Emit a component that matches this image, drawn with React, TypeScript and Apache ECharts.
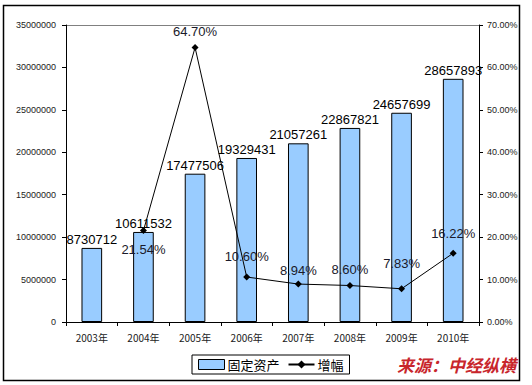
import React, { useEffect, useRef } from "react";
import * as echarts from "echarts";

const categories = ["2003年", "2004年", "2005年", "2006年", "2007年", "2008年", "2009年", "2010年"];
const assets = [8730712, 10611532, 17477506, 19329431, 21057261, 22867821, 24657699, 28657893];
const growth: (number | null)[] = [null, 0.2154, 0.647, 0.106, 0.0894, 0.086, 0.0783, 0.1622];
const growthLabelPos = ["top", "bottom", "top", "top", "top", "top", "top", "top"];
const growthLabelDist = [5, 9, 6, 11, 4, 6, 15, 10];

export default function App() {
  const ref = useRef<HTMLDivElement>(null);
  useEffect(() => {
    document.body.style.margin = "0";
    const chart = echarts.init(ref.current!, null, { renderer: "svg" });
    const font = "Arial, 'Liberation Sans', 'Noto Sans CJK SC', sans-serif";
    chart.setOption({
      animation: false,
      backgroundColor: "#fff",
      textStyle: { fontFamily: font },
      grid: { left: 66, right: 53, top: 25, bottom: 63 },
      legend: {
        left: 192,
        top: 355,
        padding: [3, 6, 3, 6],
        borderColor: "#000",
        borderWidth: 1,
        itemGap: 8,
        itemWidth: 26,
        itemHeight: 10,
        textStyle: { fontSize: 13, color: "#000", fontFamily: "'Noto Sans CJK SC', sans-serif", padding: [0, 0, 0, -2] },
        data: [
          { name: "固定资产", icon: "rect", itemStyle: { color: "#99CCFF", borderColor: "#000", borderWidth: 1 } },
          { name: "增幅" },
        ],
      },
      xAxis: {
        type: "category",
        data: categories,
        boundaryGap: true,
        axisLine: { lineStyle: { color: "#000", width: 1 } },
        axisTick: { show: true, inside: false, length: 4, lineStyle: { color: "#000" } },
        axisLabel: { color: "#222", fontSize: 10, margin: 10, fontFamily: "'Noto Sans CJK SC', sans-serif" },
      },
      yAxis: [
        {
          type: "value",
          min: 0,
          max: 35000000,
          interval: 5000000,
          axisLine: { show: true, lineStyle: { color: "#000" } },
          axisTick: { show: true, length: 4, lineStyle: { color: "#000" } },
          axisLabel: { color: "#222", fontSize: 9, margin: 10, formatter: (v: number) => String(v) },
          splitLine: {
            show: true,
            lineStyle: { color: ["transparent", "transparent", "transparent", "transparent", "transparent", "transparent", "transparent", "#808080"] },
          },
        },
        {
          type: "value",
          min: 0,
          max: 0.7,
          interval: 0.1,
          position: "right",
          axisLine: { show: true, lineStyle: { color: "#000" } },
          axisTick: { show: true, length: 4, lineStyle: { color: "#000" } },
          axisLabel: { color: "#222", fontSize: 9, margin: 8, formatter: (v: number) => (v * 100).toFixed(2) + "%" },
          splitLine: { show: false },
        },
      ],
      series: [
        {
          name: "固定资产",
          type: "bar",
          data: assets,
          barWidth: "40%",
          itemStyle: { color: "#99CCFF", borderColor: "#000", borderWidth: 1 },
          label: { show: true, position: "top", distance: 2, color: "#000", fontSize: 13 },
        },
        {
          name: "增幅",
          type: "line",
          yAxisIndex: 1,
          data: growth.map((v, i) => ({
            value: v,
            label: { position: growthLabelPos[i], distance: growthLabelDist[i] },
          })),
          connectNulls: false,
          symbol: "diamond",
          symbolSize: 7,
          lineStyle: { color: "#000", width: 1 },
          itemStyle: { color: "#000" },
          label: {
            show: true,
            distance: 5,
            color: "#1a1a2a",
            fontSize: 13,
            formatter: (p: any) => (p.value == null ? "" : (p.value * 100).toFixed(2) + "%"),
          },
          z: 5,
        },
      ],
      graphic: [
        {
          type: "rect",
          shape: { x: 3.5, y: 5.5, width: 516, height: 375 },
          style: { fill: "none", stroke: "#000", lineWidth: 1.5 },
          silent: true,
          z: -1,
        },
        {
          type: "text",
          right: 16,
          top: 356,
          style: {
            text: "来源：中经纵横",
            fill: "#c8262c",
            font: "italic bold 17px 'Noto Sans CJK SC', sans-serif",
          },
        },
      ],
    });
    return () => chart.dispose();
  }, []);
  return <div ref={ref} style={{ width: 532, height: 385 }} />;
}
